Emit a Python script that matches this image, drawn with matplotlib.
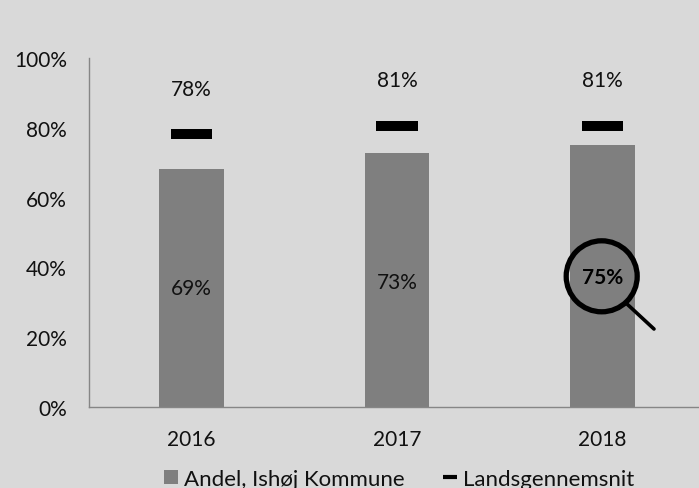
"""
Andel, Ishøj Kommune vs. landsgennemsnit, 2016-2018.
"""

import matplotlib
matplotlib.use("Agg")
import matplotlib.pyplot as plt
from matplotlib.lines import Line2D
from matplotlib.patches import Circle, Patch
from matplotlib.transforms import IdentityTransform

YEARS = ["2016", "2017", "2018"]
ANDEL = [68.3, 72.9, 75.2]
LANDS = [78.2, 80.4, 80.5]
ANDEL_LABELS = ["69%", "73%", "75%"]
LANDS_LABELS = ["78%", "81%", "81%"]
Y_TICKS = [0, 20, 40, 60, 80, 100]

BG = "#d9d9d9"
GREY = "#7f7f7f"
TXT = "#111111"
FS = 15
H = 489

plt.rcParams["font.family"] = ["Lato", "DejaVu Sans"]

fig = plt.figure(figsize=(6.99, 4.89), dpi=100, facecolor=BG)
# axes run a little past the right edge, the x axis is cut off there
ax = fig.add_axes([89 / 699, 1 - 408 / H, 616 / 699, 349 / H], facecolor=BG)

x = [0, 1, 2]
ax.bar(x, ANDEL, width=0.316, color=GREY, zorder=2)
ax.hlines(LANDS, [i - 0.101 for i in x], [i + 0.101 for i in x], color="black",
          linewidth=7.2, zorder=3, capstyle="butt")

ax.set_xlim(-0.5, 2.5)
ax.set_ylim(0, 100)
ax.set_xticks(x, YEARS)
ax.set_yticks(Y_TICKS, [f"{v}%" for v in Y_TICKS])
ax.tick_params(axis="both", length=0, labelsize=FS, labelcolor=TXT)
ax.tick_params(axis="x", pad=16)
ax.tick_params(axis="y", pad=16)
for side in ["top", "right"]:
    ax.spines[side].set_visible(False)
for side in ["left", "bottom"]:
    ax.spines[side].set_color("#868686")
    ax.spines[side].set_linewidth(1)

# value labels
land_y = [91.2, 93.7, 93.7]
for i in x:
    ax.text(i, land_y[i], LANDS_LABELS[i], ha="center", va="center",
            fontsize=FS, color=TXT)
andel_y = [34.0, 35.8, 37.2]
for i in x[:2]:
    ax.text(i, andel_y[i], ANDEL_LABELS[i], ha="center", va="center",
            fontsize=FS, color=TXT)
ax.text(2, andel_y[2], ANDEL_LABELS[2], ha="center", va="center",
        fontsize=FS, color="black", fontweight="bold", zorder=5)

# magnifying glass around the last value, in image pixels
glass = Circle((601.7, H - 277.3), 35.5, transform=IdentityTransform(), fill=False,
               edgecolor="black", linewidth=3.8, zorder=6)
handle = Line2D([627, 654], [H - 305, H - 330], transform=IdentityTransform(),
                color="black", linewidth=2.6, solid_capstyle="round", zorder=6)
fig.add_artist(glass)
fig.add_artist(handle)

# legend
handles = [
    Patch(facecolor=GREY, label="Andel, Ishøj Kommune"),
    Line2D([], [], color="black", lw=3, solid_capstyle="butt", label="Landsgennemsnit"),
]
fig.legend(handles=handles, loc="lower center", ncol=2, frameon=False,
           fontsize=16, bbox_to_anchor=(0.571, -0.002), handlelength=0.63,
           handleheight=0.63, columnspacing=1.76, handletextpad=0.27,
           borderpad=0, borderaxespad=0, labelcolor=TXT)

fig.savefig("out.png", dpi=100, facecolor=BG)
